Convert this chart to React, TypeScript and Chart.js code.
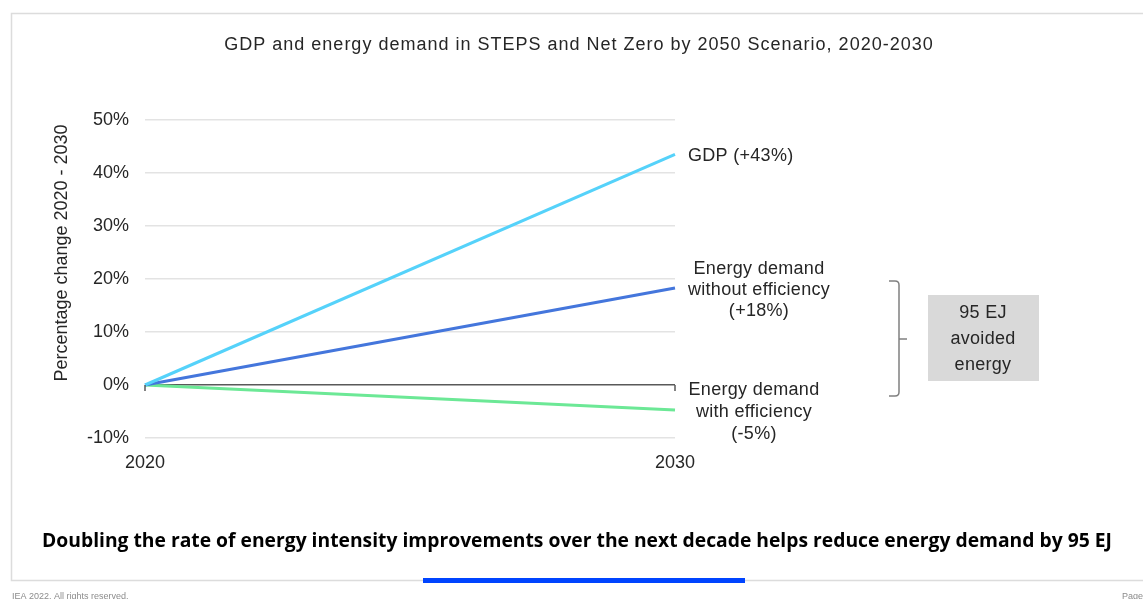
import React, { useEffect, useRef } from "react";
import { Chart, registerables } from "chart.js";

Chart.register(...registerables);

const years = ["2020", "2030"];
const gdp = [0, 43.5];
const energyWithout = [0, 18.3];
const energyWith = [0, -4.7];
const yTicks = [-10, 0, 10, 20, 30, 40, 50];

const titleText = "GDP and energy demand in STEPS and Net Zero by 2050 Scenario, 2020-2030";
const subText = "Doubling the rate of energy intensity improvements over the next decade helps reduce energy demand by 95 EJ";
const yTitle = "Percentage change 2020 - 2030";
const gdpLabel = ["GDP (+43%)"];
const withoutLabel = ["Energy demand", "without efficiency", "(+18%)"];
const withLabel = ["Energy demand", "with efficiency", "(-5%)"];
const boxLabel = ["95 EJ", "avoided", "energy"];
const footerLeft = "IEA 2022. All rights reserved.";
const footerRight = "Page";

const FONT = "'Liberation Sans', Arial, sans-serif";

const decor = {
  id: "decor",
  beforeDraw(chart: any) {
    const ctx = chart.ctx;
    ctx.save();
    ctx.fillStyle = "#ffffff";
    ctx.fillRect(0, 0, chart.width, chart.height);
    ctx.strokeStyle = "#dcdcdc";
    ctx.lineWidth = 1.5;
    ctx.beginPath();
    ctx.moveTo(1150, 13.5);
    ctx.lineTo(11.5, 13.5);
    ctx.lineTo(11.5, 580.5);
    ctx.lineTo(1150, 580.5);
    ctx.stroke();
    ctx.restore();
  },
  afterDraw(chart: any) {
    const ctx = chart.ctx;
    const xs = chart.scales.x;
    const ys = chart.scales.y;
    ctx.save();
    ctx.fillStyle = "#262626";
    ctx.textAlign = "center";
    ctx.textBaseline = "middle";
    ctx.font = `18px ${FONT}`;
    (ctx as any).letterSpacing = "1px";
    ctx.fillText(titleText, 579, 45);
    (ctx as any).letterSpacing = "0px";

    ctx.font = `bold 19.3px 'Open Sans', sans-serif`;
    ctx.fillStyle = "#000000";
    ctx.fillText(subText, 577, 542);

    ctx.save();
    ctx.translate(62, 253);
    ctx.rotate(-Math.PI / 2);
    ctx.fillStyle = "#262626";
    ctx.font = `18px ${FONT}`;
    ctx.fillText(yTitle, 0, 0);
    ctx.restore();

    const y0 = ys.getPixelForValue(0);
    ctx.strokeStyle = "#595959";
    ctx.lineWidth = 1.5;
    [0, 1].forEach((i) => {
      const x = xs.getPixelForValue(i);
      ctx.beginPath();
      ctx.moveTo(x, y0);
      ctx.lineTo(x, y0 + 6);
      ctx.stroke();
    });

    const xEnd = xs.getPixelForValue(1);
    ctx.fillStyle = "#262626";
    ctx.font = `18px ${FONT}`;
    (ctx as any).letterSpacing = "0.3px";
    ctx.textAlign = "left";
    ctx.fillText(gdpLabel[0], xEnd + 13, ys.getPixelForValue(gdp[1]) + 2);
    ctx.textAlign = "center";
    const yw = ys.getPixelForValue(energyWithout[1]);
    withoutLabel.forEach((t, i) => ctx.fillText(t, xEnd + 84, yw - 19 + i * 21));
    const yv = ys.getPixelForValue(0);
    withLabel.forEach((t, i) => ctx.fillText(t, xEnd + 79, yv + 5 + i * 22));

    ctx.strokeStyle = "#808080";
    ctx.lineWidth = 1.5;
    ctx.beginPath();
    ctx.moveTo(889, 281);
    ctx.lineTo(895, 281);
    ctx.quadraticCurveTo(899, 281, 899, 285);
    ctx.lineTo(899, 392);
    ctx.quadraticCurveTo(899, 396, 895, 396);
    ctx.lineTo(889, 396);
    ctx.moveTo(899, 339);
    ctx.lineTo(907, 339);
    ctx.stroke();

    ctx.fillStyle = "#d9d9d9";
    ctx.fillRect(928, 295, 111, 86);
    ctx.fillStyle = "#262626";
    ctx.font = `18px ${FONT}`;
    boxLabel.forEach((t, i) => ctx.fillText(t, 983, 313 + i * 26));
    (ctx as any).letterSpacing = "0px";

    ctx.fillStyle = "#0044ff";
    ctx.fillRect(423, 578, 322, 5);

    ctx.fillStyle = "#8c8c8c";
    ctx.font = `9px ${FONT}`;
    ctx.textAlign = "left";
    ctx.fillText(footerLeft, 12, 597);
    ctx.textAlign = "right";
    ctx.fillText(footerRight, 1143, 597);
    ctx.restore();
  },
};

export default function App() {
  const ref = useRef<HTMLCanvasElement>(null);
  useEffect(() => {
    document.body.style.margin = "0";
    const chart = new Chart(ref.current as HTMLCanvasElement, {
      type: "line",
      data: {
        labels: years,
        datasets: [
          { label: "GDP", data: gdp, borderColor: "#55d2fa", borderWidth: 3, pointRadius: 0, fill: false },
          { label: "Energy demand without efficiency", data: energyWithout, borderColor: "#4476dc", borderWidth: 3, pointRadius: 0, fill: false },
          { label: "Energy demand with efficiency", data: energyWith, borderColor: "#6ce896", borderWidth: 3, pointRadius: 0, fill: false },
        ],
      },
      options: {
        animation: false,
        responsive: false,
        devicePixelRatio: 1,
        layout: { padding: { left: 0, top: 120, right: 468, bottom: 121 } },
        plugins: { legend: { display: false }, tooltip: { enabled: false }, title: { display: false } },
        scales: {
          x: {
            type: "category",
            offset: false,
            grid: { display: false },
            border: { display: false },
            ticks: { color: "#262626", font: { family: FONT, size: 18 }, padding: 6, maxRotation: 0 },
            afterFit: (s: any) => { s.height = 40; },
          },
          y: {
            min: -10,
            max: 50,
            afterBuildTicks: (s: any) => { s.ticks = yTicks.map((v) => ({ value: v })); },
            grid: {
              drawTicks: false,
              color: (c: any) => (c.tick && c.tick.value === 0 ? "#595959" : "#e3e3e3"),
              lineWidth: 1.5,
            },
            border: { display: false },
            ticks: {
              color: "#262626",
              font: { family: FONT, size: 18 },
              padding: 16,
              callback: (v: any) => `${v}%`,
            },
            afterFit: (s: any) => { s.width = 145; },
          },
        },
      },
      plugins: [decor],
    } as any);
    return () => chart.destroy();
  }, []);
  return (
    <div style={{ position: "relative", width: 1143, height: 599 }}>
      <canvas ref={ref} width={1143} height={599} style={{ display: "block" }} />
    </div>
  );
}
